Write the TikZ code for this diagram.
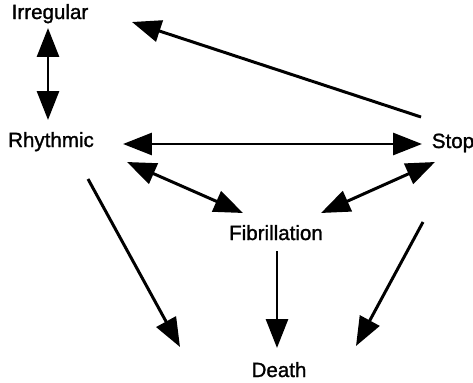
\documentclass[tikz,border=0pt]{standalone}
\usepackage{fontspec}
\setmainfont{Liberation Sans}
\newfontface\etiqueta{Liberation Sans}[FakeBold=1.3]
\usetikzlibrary{arrows.meta,positioning}

\begin{document}
\begin{tikzpicture}[x=0.02cm, y=-0.02cm, >={Triangle[length=16.5pt,width=12.5pt]},
    line width=1.7pt,
    estado/.style={anchor=base, inner sep=0pt, font=\etiqueta\fontsize{11.7}{14}\selectfont}]

        \useasboundingbox (0,0) rectangle (473,382);

        % Nos
        \node [estado] (irregular) at (50,19) {Irregular};
        \node [estado] (rhythmic) at (51,147) {Rhythmic};
        \node [estado] (stop) at (453,148) {Stop};
        \node [estado] (fibrillation) at (276,240) {Fibrillation};
        \node [estado] (death) at (279,377) {Death};

        % Pontas das setas
        \coordinate (irr-s) at (48,28);
        \coordinate (rhy-n) at (48,120);
        \coordinate (irr-e) at (132,22);
        \coordinate (stop-nw) at (421,117);
        \coordinate (rhy-e) at (123,144);
        \coordinate (stop-w) at (422,144);
        \coordinate (rhy-se) at (127,162);
        \coordinate (fib-nw) at (243,213);
        \coordinate (stop-sw) at (435,162);
        \coordinate (fib-ne) at (321,213);
        \coordinate (rhy-s) at (88,179);
        \coordinate (death-nw) at (180,347);
        \coordinate (fib-s) at (277,251);
        \coordinate (death-n) at (277,348);
        \coordinate (stop-s) at (423,222);
        \coordinate (death-ne) at (356,346);

        % Conexoes
        \draw [<->] (irr-s) -- (rhy-n);
        \draw [->] (stop-nw) -- (irr-e);
        \draw [<->] (rhy-e) -- (stop-w);
        \draw [<->] (rhy-se) -- (fib-nw);
        \draw [<->] (stop-sw) -- (fib-ne);
        \draw [->] (rhy-s) -- (death-nw);
        \draw [->] (fib-s) -- (death-n);
        \draw [->] (stop-s) -- (death-ne);

    \end{tikzpicture}
\end{document}
